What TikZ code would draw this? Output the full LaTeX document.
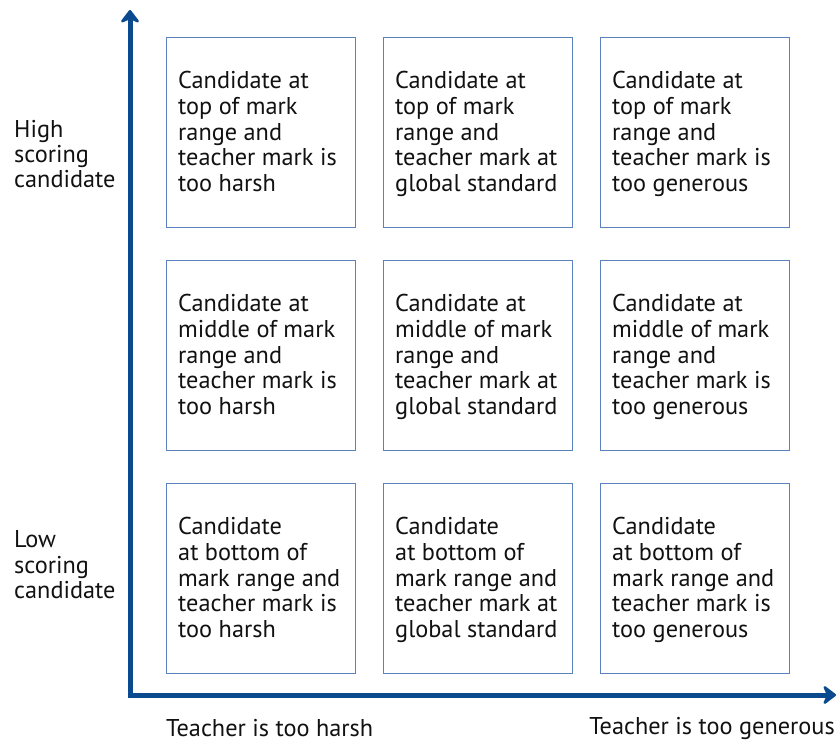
\documentclass[tikz,border=0pt]{standalone}
\usepackage{fontspec}
\setmainfont{PT Sans}
\usetikzlibrary{arrows.meta}
\definecolor{axisblue}{HTML}{0B4A8F}
\definecolor{boxblue}{HTML}{5A83BE}
\definecolor{txt}{HTML}{111111}
\begin{document}
\begin{tikzpicture}[x=1pt,y=-1pt,
  cell/.style={draw=boxblue, line width=1.3pt, minimum width=189pt, minimum height=190pt,
    inner sep=0pt, anchor=north west},
  celltext/.style={align=left, inner sep=0pt, anchor=west, text=txt,
    font=\fontsize{24.3}{25.8}\selectfont, execute at begin node=\strut, execute at end node=\strut},
  axislabel/.style={align=left, text=txt, inner sep=0pt, font=\fontsize{24.3}{25.4}\selectfont},
  axis/.style={draw=axisblue, line width=5pt,
    {Stealth[length=15pt,width=23pt,inset=5pt,round]}-{Stealth[length=15pt,width=23pt,inset=5pt,round]}}]
\useasboundingbox (0,0) rectangle (837,742);

% grid of cells: columns = teacher leniency, rows = candidate score
\foreach \r/\y in {1/37,2/260,3/483}
  \foreach \c/\x in {1/166,2/383,3/600}
    \node[cell] (b\r\c) at (\x,\y) {};

\tikzset{inset/.style={xshift=12pt,yshift=-2.6pt}}
\node[celltext] (t11) at ([inset]b11.west) {Candidate at\\top of mark\\range and\\teacher mark is\\too harsh};
\node[celltext] (t12) at ([inset]b12.west) {Candidate at\\top of mark\\range and\\teacher mark at\\global standard};
\node[celltext] (t13) at ([inset]b13.west) {Candidate at\\top of mark\\range and\\teacher mark is\\too generous};
\node[celltext] (t21) at ([inset]b21.west) {Candidate at\\middle of mark\\range and\\teacher mark is\\too harsh};
\node[celltext] (t22) at ([inset]b22.west) {Candidate at\\middle of mark\\range and\\teacher mark at\\global standard};
\node[celltext] (t23) at ([inset]b23.west) {Candidate at\\middle of mark\\range and\\teacher mark is\\too generous};
\node[celltext] (t31) at ([inset]b31.west) {Candidate\\at bottom of\\mark range and\\teacher mark is\\too harsh};
\node[celltext] (t32) at ([inset]b32.west) {Candidate\\at bottom of\\mark range and\\teacher mark at\\global standard};
\node[celltext] (t33) at ([inset]b33.west) {Candidate\\at bottom of\\mark range and\\teacher mark is\\too generous};

% axes
\coordinate (origin) at (130,695);
\coordinate (ytop) at (130,10);
\coordinate (xend) at (836,695);
\draw[axis] (ytop) -- (origin) -- (xend);

% axis labels
\node[axislabel, anchor=west] (high) at (14,154) {High\\scoring\\candidate};
\node[axislabel, anchor=west] (low) at (14,565) {Low\\scoring\\candidate};
\node[axislabel, anchor=west] (harsh) at (166,728) {Teacher is too harsh};
\node[axislabel, anchor=east] (generous) at (835,728) {Teacher is too generous};
\end{tikzpicture}
\end{document}
